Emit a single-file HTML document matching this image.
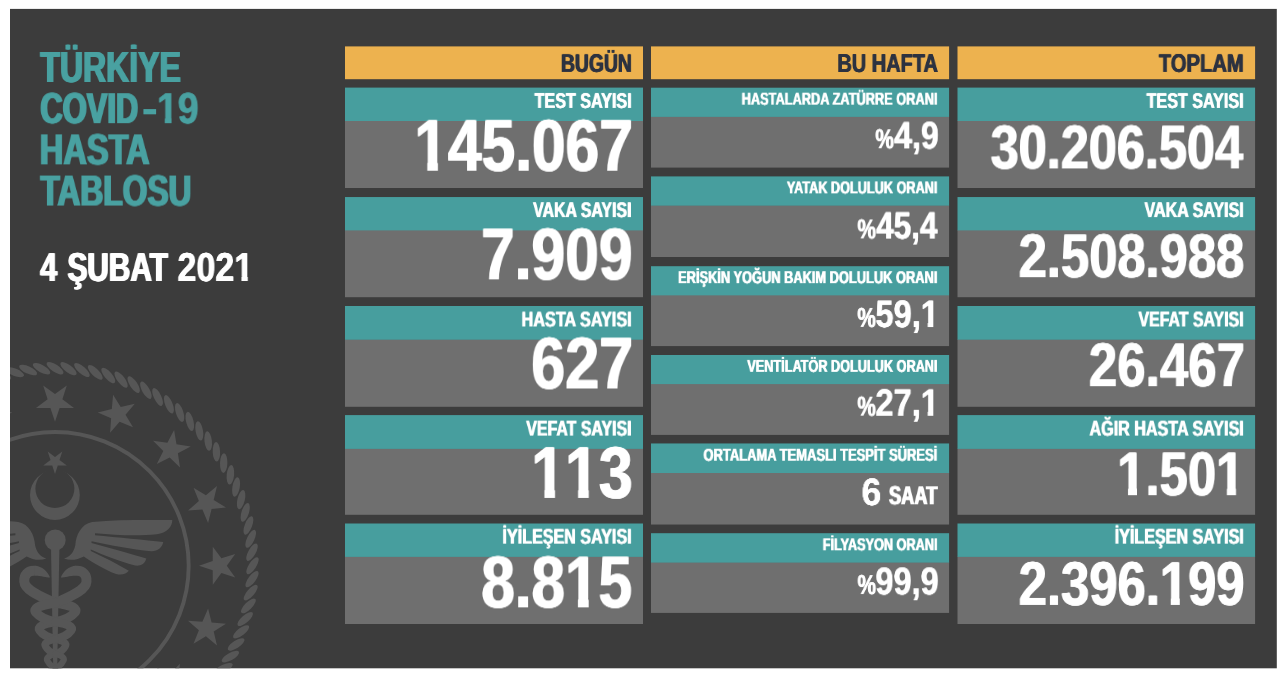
<!DOCTYPE html>
<html lang="tr">
<head>
<meta charset="utf-8">
<title>Türkiye COVID-19 Hasta Tablosu - 4 Şubat 2021</title>
<style>
html,body{margin:0;padding:0;background:#fff;}
body{width:1280px;height:674px;position:relative;overflow:hidden;font-family:"Liberation Sans",sans-serif;font-weight:bold;}
#wrap{position:absolute;left:0;top:0;width:1280px;height:674px;}
.t{position:absolute;left:0;top:0;white-space:nowrap;line-height:1;transform-origin:0 0;color:#fff;margin:0;padding:0;will-change:transform;text-rendering:geometricPrecision;}.o{display:inline-block;clip-path:polygon(0 0,100% 0,100% var(--c),var(--b) var(--c),var(--b) 100%,var(--a) 100%,var(--a) var(--c),0 var(--c));}
</style>
</head>
<body>
<div id="wrap">
<svg width="1280" height="674" viewBox="0 0 1280 674" style="position:absolute;left:0;top:0">
<defs><clipPath id="bc"><rect x="10.00" y="8.90" width="1266.80" height="659.40"/></clipPath></defs>
<rect x="10.00" y="8.90" width="1266.80" height="659.40" fill="#3c3c3c"/>
<g id="emblem" clip-path="url(#bc)" fill="#565656" stroke="none">
<g><ellipse cx="55.0" cy="368.2" rx="9.8" ry="3.7" transform="rotate(33.0 55.0 368.2)"/><ellipse cx="68.5" cy="368.7" rx="9.8" ry="3.7" transform="rotate(36.9 68.5 368.7)"/><ellipse cx="81.9" cy="370.0" rx="9.8" ry="3.7" transform="rotate(40.8 81.9 370.0)"/><ellipse cx="95.2" cy="372.3" rx="9.8" ry="3.7" transform="rotate(44.7 95.2 372.3)"/><ellipse cx="108.3" cy="375.5" rx="9.8" ry="3.7" transform="rotate(48.7 108.3 375.5)"/><ellipse cx="121.1" cy="379.6" rx="9.8" ry="3.7" transform="rotate(52.6 121.1 379.6)"/><ellipse cx="133.7" cy="384.6" rx="9.8" ry="3.7" transform="rotate(56.5 133.7 384.6)"/><ellipse cx="145.9" cy="390.3" rx="9.8" ry="3.7" transform="rotate(60.4 145.9 390.3)"/><ellipse cx="157.6" cy="397.0" rx="9.8" ry="3.7" transform="rotate(64.3 157.6 397.0)"/><ellipse cx="168.9" cy="404.3" rx="9.8" ry="3.7" transform="rotate(68.2 168.9 404.3)"/><ellipse cx="179.6" cy="412.5" rx="9.8" ry="3.7" transform="rotate(72.1 179.6 412.5)"/><ellipse cx="189.8" cy="421.4" rx="9.8" ry="3.7" transform="rotate(76.0 189.8 421.4)"/><ellipse cx="199.3" cy="430.9" rx="9.8" ry="3.7" transform="rotate(80.0 199.3 430.9)"/><ellipse cx="208.2" cy="441.1" rx="9.8" ry="3.7" transform="rotate(83.9 208.2 441.1)"/><ellipse cx="216.4" cy="451.8" rx="9.8" ry="3.7" transform="rotate(87.8 216.4 451.8)"/><ellipse cx="223.7" cy="463.1" rx="9.8" ry="3.7" transform="rotate(91.7 223.7 463.1)"/><ellipse cx="230.4" cy="474.8" rx="9.8" ry="3.7" transform="rotate(95.6 230.4 474.8)"/><ellipse cx="236.1" cy="487.0" rx="9.8" ry="3.7" transform="rotate(99.5 236.1 487.0)"/><ellipse cx="241.1" cy="499.6" rx="9.8" ry="3.7" transform="rotate(103.4 241.1 499.6)"/><ellipse cx="245.2" cy="512.4" rx="9.8" ry="3.7" transform="rotate(107.3 245.2 512.4)"/><ellipse cx="248.4" cy="525.5" rx="9.8" ry="3.7" transform="rotate(111.3 248.4 525.5)"/><ellipse cx="250.7" cy="538.8" rx="9.8" ry="3.7" transform="rotate(115.2 250.7 538.8)"/><ellipse cx="252.0" cy="552.2" rx="9.8" ry="3.7" transform="rotate(119.1 252.0 552.2)"/><ellipse cx="252.5" cy="565.7" rx="9.8" ry="3.7" transform="rotate(123.0 252.5 565.7)"/><ellipse cx="252.0" cy="579.2" rx="9.8" ry="3.7" transform="rotate(126.9 252.0 579.2)"/><ellipse cx="250.7" cy="592.6" rx="9.8" ry="3.7" transform="rotate(130.8 250.7 592.6)"/><ellipse cx="248.4" cy="605.9" rx="9.8" ry="3.7" transform="rotate(134.7 248.4 605.9)"/><ellipse cx="245.2" cy="619.0" rx="9.8" ry="3.7" transform="rotate(138.7 245.2 619.0)"/><ellipse cx="241.1" cy="631.8" rx="9.8" ry="3.7" transform="rotate(142.6 241.1 631.8)"/><ellipse cx="236.1" cy="644.4" rx="9.8" ry="3.7" transform="rotate(146.5 236.1 644.4)"/><ellipse cx="230.4" cy="656.6" rx="9.8" ry="3.7" transform="rotate(150.4 230.4 656.6)"/><ellipse cx="223.7" cy="668.3" rx="9.8" ry="3.7" transform="rotate(154.3 223.7 668.3)"/><ellipse cx="216.4" cy="679.6" rx="9.8" ry="3.7" transform="rotate(158.2 216.4 679.6)"/><ellipse cx="1.7" cy="375.5" rx="9.8" ry="3.7" transform="rotate(377.3 1.7 375.5)"/><ellipse cx="14.8" cy="372.3" rx="9.8" ry="3.7" transform="rotate(381.3 14.8 372.3)"/><ellipse cx="28.1" cy="370.0" rx="9.8" ry="3.7" transform="rotate(385.2 28.1 370.0)"/><ellipse cx="41.5" cy="368.7" rx="9.8" ry="3.7" transform="rotate(389.1 41.5 368.7)"/></g>
<polygon points="55.0,421.7 50.4,408.0 36.0,407.9 47.6,399.3 43.2,385.5 55.0,393.9 66.8,385.5 62.4,399.3 74.0,407.9 59.6,408.0"/>
<polygon points="110.1,432.7 111.1,418.3 97.8,412.6 111.8,409.1 113.1,394.7 120.7,407.0 134.8,403.7 125.5,414.8 133.0,427.2 119.6,421.8"/>
<polygon points="156.8,463.9 163.3,451.0 153.1,440.7 167.4,442.8 174.1,430.0 176.5,444.2 190.7,446.6 177.9,453.3 180.0,467.6 169.7,457.4"/>
<polygon points="188.0,510.6 198.9,501.1 193.5,487.7 205.9,495.2 217.0,485.9 213.7,500.0 226.0,507.6 211.6,508.9 208.1,522.9 202.4,509.6"/>
<polygon points="199.0,565.7 212.7,561.1 212.8,546.7 221.4,558.3 235.2,553.9 226.8,565.7 235.2,577.5 221.4,573.1 212.8,584.7 212.7,570.3"/>
<polygon points="188.0,620.8 202.4,621.8 208.1,608.5 211.6,622.5 226.0,623.8 213.7,631.4 217.0,645.5 205.9,636.2 193.5,643.7 198.9,630.3"/>
<polygon points="156.8,667.5 169.7,674.0 180.0,663.8 177.9,678.1 190.7,684.8 176.5,687.2 174.1,701.4 167.4,688.6 153.1,690.7 163.3,680.4"/>
<polygon points="-0.1,432.7 -9.6,421.8 -23.0,427.2 -15.5,414.8 -24.8,403.7 -10.7,407.0 -3.1,394.7 -1.8,409.1 12.2,412.6 -1.1,418.3"/>
<circle cx="55.0" cy="565.7" r="133.7" fill="none" stroke="#565656" stroke-width="3.9"/>
<polygon points="55.0,474.0 52.2,465.4 43.2,465.4 50.5,460.1 47.7,451.6 55.0,456.9 62.3,451.6 59.5,460.1 66.8,465.4 57.8,465.4"/>
<clipPath id="cr"><path d="M30.0,495.0 a24.9,24.9 0 1,1 49.8,0 a24.9,24.9 0 1,1 -49.8,0Z"/></clipPath>
<path clip-path="url(#cr)" fill-rule="evenodd" d="M0,440H120V540H0Z M35.4,488.6 a19.5,19.5 0 1,1 39.0,0 a19.5,19.5 0 1,1 -39.0,0Z"/>
<path d="M64.1,558.5C69.7,557.1 73.9,552.2 75.3,545.2C76.0,535.3 80.9,524.1 92.2,522.0C117.5,519.6 145.6,520.1 172.3,520.1C172.3,526.9 166.7,533.2 156.9,534.2C138.6,536.0 117.5,535.3 95.0,533.2L95.0,535.3C117.5,537.4 145.6,540.2 163.2,542.1C162.5,548.0 156.9,551.5 151.3,551.2C131.6,549.4 110.5,545.2 91.5,541.2L91.5,543.0C110.5,548.0 131.6,554.3 146.3,558.5C144.9,564.1 140.0,566.3 135.1,565.5C117.5,560.6 103.4,555.0 90.8,549.4L90.8,551.1C103.4,557.1 117.5,564.1 128.8,570.8C126.6,574.0 121.7,575.4 116.1,574.0C103.4,569.1 92.2,562.0 83.8,556.4C78.1,559.2 71.1,561.3 64.1,558.5Z"/>
<path d="M46.3,558.5C40.7,557.1 36.5,552.2 35.1,545.2C34.4,535.3 29.5,524.1 18.2,522.0C-7.1,519.6 -35.2,520.1 -61.9,520.1C-61.9,526.9 -56.3,533.2 -46.5,534.2C-28.2,536.0 -7.1,535.3 15.4,533.2L15.4,535.3C-7.1,537.4 -35.2,540.2 -52.8,542.1C-52.1,548.0 -46.5,551.5 -40.9,551.2C-21.2,549.4 -0.1,545.2 18.9,541.2L18.9,543.0C-0.1,548.0 -21.2,554.3 -35.9,558.5C-34.5,564.1 -29.6,566.3 -24.7,565.5C-7.1,560.6 7.0,555.0 19.6,549.4L19.6,551.1C7.0,557.1 -7.1,564.1 -18.4,570.8C-16.2,574.0 -11.3,575.4 -5.7,574.0C7.0,569.1 18.2,562.0 26.6,556.4C32.3,559.2 39.3,561.3 46.3,558.5Z"/>
<circle cx="55.2" cy="540" r="10.5"/>
<path d="M51,548 L59.4,548 L57.2,668 L53.2,668Z"/>
<path d="M35.2,570.8 C27.5,570.2 23.8,575.4 24.3,581.4 C24.7,588.8 35.2,594.4 55.4,603.0" fill="none" stroke="#565656" stroke-width="10.0" stroke-linecap="butt" stroke-linejoin="round"/><path d="M55.4,603.0 C72.9,605.3 78.3,608.7 74.8,612.5 C71.3,616.7 66.1,620.1 55.4,622.0" fill="none" stroke="#565656" stroke-width="9.4" stroke-linecap="round" stroke-linejoin="round"/><path d="M55.4,622.0 C41.2,624.1 36.8,627.2 39.6,630.6 C42.4,634.4 46.7,637.5 55.4,639.2" fill="none" stroke="#565656" stroke-width="8.4" stroke-linecap="round" stroke-linejoin="round"/><path d="M55.4,639.2 C64.2,641.0 67.0,643.6 65.2,646.5 C63.4,649.8 60.8,652.4 55.4,653.9" fill="none" stroke="#565656" stroke-width="7.2" stroke-linecap="round" stroke-linejoin="round"/><path d="M55.4,653.9 C48.2,655.6 46.0,658.1 47.4,660.8 C48.8,663.9 51.0,666.4 55.4,667.8" fill="none" stroke="#565656" stroke-width="6.2" stroke-linecap="round" stroke-linejoin="round"/><path d="M55.4,667.8 C60.8,669.3 62.5,671.5 61.4,673.9 C60.3,676.6 58.7,678.8 55.4,680.0" fill="none" stroke="#565656" stroke-width="5.5" stroke-linecap="round" stroke-linejoin="round"/><path d="M34.8,565.8 C42.1,566.0 47.8,571.9 50.0,577.5 C46.1,577.6 41.8,575.7 34.8,575.7Z"/>
<path d="M75.6,570.8 C83.3,570.2 87.0,575.4 86.5,581.4 C86.1,588.8 75.6,594.4 55.4,603.0" fill="none" stroke="#565656" stroke-width="10.0" stroke-linecap="butt" stroke-linejoin="round"/><path d="M55.4,603.0 C37.9,605.3 32.5,608.7 36.0,612.5 C39.5,616.7 44.7,620.1 55.4,622.0" fill="none" stroke="#565656" stroke-width="9.4" stroke-linecap="round" stroke-linejoin="round"/><path d="M55.4,622.0 C69.6,624.1 74.0,627.2 71.2,630.6 C68.4,634.4 64.1,637.5 55.4,639.2" fill="none" stroke="#565656" stroke-width="8.4" stroke-linecap="round" stroke-linejoin="round"/><path d="M55.4,639.2 C46.6,641.0 43.8,643.6 45.6,646.5 C47.4,649.8 50.0,652.4 55.4,653.9" fill="none" stroke="#565656" stroke-width="7.2" stroke-linecap="round" stroke-linejoin="round"/><path d="M55.4,653.9 C62.6,655.6 64.8,658.1 63.4,660.8 C62.0,663.9 59.8,666.4 55.4,667.8" fill="none" stroke="#565656" stroke-width="6.2" stroke-linecap="round" stroke-linejoin="round"/><path d="M55.4,667.8 C50.0,669.3 48.3,671.5 49.4,673.9 C50.5,676.6 52.1,678.8 55.4,680.0" fill="none" stroke="#565656" stroke-width="5.5" stroke-linecap="round" stroke-linejoin="round"/><path d="M76.0,565.8 C68.7,566.0 63.0,571.9 60.8,577.5 C64.7,577.6 69.0,575.7 76.0,575.7Z"/>
</g>
<rect x="345.00" y="46.40" width="298.00" height="32.80" fill="#edb24f"/>
<rect x="651.00" y="46.40" width="298.10" height="32.80" fill="#edb24f"/>
<rect x="957.50" y="46.40" width="297.60" height="32.80" fill="#edb24f"/>
<rect x="345.00" y="120.50" width="298.00" height="67.50" fill="#6f6f6f"/>
<rect x="345.00" y="87.60" width="298.00" height="33.40" fill="#479e9e"/>
<rect x="345.00" y="229.90" width="298.00" height="67.30" fill="#6f6f6f"/>
<rect x="345.00" y="197.05" width="298.00" height="33.35" fill="#479e9e"/>
<rect x="345.00" y="339.20" width="298.00" height="67.60" fill="#6f6f6f"/>
<rect x="345.00" y="306.00" width="298.00" height="33.70" fill="#479e9e"/>
<rect x="345.00" y="448.40" width="298.00" height="66.40" fill="#6f6f6f"/>
<rect x="345.00" y="415.10" width="298.00" height="33.80" fill="#479e9e"/>
<rect x="345.00" y="556.40" width="298.00" height="67.60" fill="#6f6f6f"/>
<rect x="345.00" y="523.50" width="298.00" height="33.40" fill="#479e9e"/>
<rect x="957.50" y="120.50" width="297.60" height="67.50" fill="#6f6f6f"/>
<rect x="957.50" y="87.60" width="297.60" height="33.40" fill="#479e9e"/>
<rect x="957.50" y="229.90" width="297.60" height="67.30" fill="#6f6f6f"/>
<rect x="957.50" y="197.05" width="297.60" height="33.35" fill="#479e9e"/>
<rect x="957.50" y="339.20" width="297.60" height="67.60" fill="#6f6f6f"/>
<rect x="957.50" y="306.00" width="297.60" height="33.70" fill="#479e9e"/>
<rect x="957.50" y="448.40" width="297.60" height="66.40" fill="#6f6f6f"/>
<rect x="957.50" y="415.10" width="297.60" height="33.80" fill="#479e9e"/>
<rect x="957.50" y="556.40" width="297.60" height="67.60" fill="#6f6f6f"/>
<rect x="957.50" y="523.50" width="297.60" height="33.40" fill="#479e9e"/>
<rect x="651.00" y="116.40" width="298.10" height="51.20" fill="#6f6f6f"/>
<rect x="651.00" y="87.70" width="298.10" height="29.20" fill="#479e9e"/>
<rect x="651.00" y="205.15" width="298.10" height="51.85" fill="#6f6f6f"/>
<rect x="651.00" y="176.40" width="298.10" height="29.25" fill="#479e9e"/>
<rect x="651.00" y="294.85" width="298.10" height="51.25" fill="#6f6f6f"/>
<rect x="651.00" y="266.20" width="298.10" height="29.15" fill="#479e9e"/>
<rect x="651.00" y="383.60" width="298.10" height="51.30" fill="#6f6f6f"/>
<rect x="651.00" y="355.00" width="298.10" height="29.10" fill="#479e9e"/>
<rect x="651.00" y="472.50" width="298.10" height="52.05" fill="#6f6f6f"/>
<rect x="651.00" y="443.45" width="298.10" height="29.55" fill="#479e9e"/>
<rect x="651.00" y="562.10" width="298.10" height="50.80" fill="#6f6f6f"/>
<rect x="651.00" y="533.20" width="298.10" height="29.40" fill="#479e9e"/>
</svg>
<div class="t" style="color:#49a1a1;font-size:43.61px;text-shadow:1.24px 0 0 currentColor,-1.24px 0 0 currentColor;transform:translate(40.35px,46.96px) scaleX(0.7339);">TÜRKİYE</div>
<div class="t" style="color:#49a1a1;font-size:43.62px;text-shadow:1.41px 0 0 currentColor,-1.41px 0 0 currentColor;transform:translate(40.44px,88.18px) scaleX(0.7080);">COVID</div>
<div class="t" style="color:#49a1a1;font-size:43.61px;transform:translate(141.45px,87.97px) scaleX(1.1428);">-</div>
<div class="t" style="color:#49a1a1;font-size:43.62px;--a:38.9%;--b:69.7%;--c:67.96%;text-shadow:0.56px 0 0 currentColor,-0.56px 0 0 currentColor;transform:translate(156.90px,88.18px) scaleX(0.8606);"><span class="o">1</span>9</div>
<div class="t" style="color:#49a1a1;font-size:43.62px;text-shadow:1.16px 0 0 currentColor,-1.16px 0 0 currentColor;transform:translate(39.81px,129.37px) scaleX(0.7465);">HASTA</div>
<div class="t" style="color:#49a1a1;font-size:43.62px;text-shadow:1.28px 0 0 currentColor,-1.28px 0 0 currentColor;transform:translate(40.39px,170.56px) scaleX(0.7279);">TABLOSU</div>
<div class="t" style="font-size:40.46px;text-shadow:1.04px 0 0 currentColor,-1.04px 0 0 currentColor;transform:translate(40.20px,246.99px) scaleX(0.7543);">4</div>
<div class="t" style="font-size:40.46px;text-shadow:1.14px 0 0 currentColor,-1.14px 0 0 currentColor;transform:translate(67.51px,246.99px) scaleX(0.7363);">ŞUBAT</div>
<div class="t" style="font-size:40.46px;--a:38.5%;--b:70.1%;--c:71.60%;text-shadow:0.60px 0 0 currentColor,-0.60px 0 0 currentColor;transform:translate(177.47px,246.99px) scaleX(0.8413);">202<span class="o">1</span></div>
<div class="t" style="color:#2c3240;font-size:25.64px;text-shadow:0.65px 0 0 currentColor,-0.65px 0 0 currentColor;transform:translate(560.92px,51.93px) scaleX(0.7554);">BUGÜN</div>
<div class="t" style="color:#2c3240;font-size:25.66px;text-shadow:0.57px 0 0 currentColor,-0.57px 0 0 currentColor;transform:translate(837.39px,51.99px) scaleX(0.7780);">BU HAFTA</div>
<div class="t" style="color:#2c3240;font-size:25.64px;text-shadow:0.54px 0 0 currentColor,-0.54px 0 0 currentColor;transform:translate(1158.76px,51.93px) scaleX(0.7891);">TOPLAM</div>
<div class="t" style="font-size:21.29px;text-shadow:0.54px 0 0 currentColor,-0.54px 0 0 currentColor;transform:translate(534.58px,90.88px) scaleX(0.7574);">TEST SAYISI</div>
<div class="t" style="font-size:73.43px;--a:39.0%;--b:69.5%;--c:71.64%;text-shadow:0.87px 0 0 currentColor,-0.87px 0 0 currentColor;transform:translate(414.26px,109.73px) scaleX(0.8235);"><span class="o">1</span>45.067</div>
<div class="t" style="font-size:21.31px;text-shadow:0.57px 0 0 currentColor,-0.57px 0 0 currentColor;transform:translate(533.15px,200.09px) scaleX(0.7457);">VAKA SAYISI</div>
<div class="t" style="font-size:73.39px;text-shadow:0.85px 0 0 currentColor,-0.85px 0 0 currentColor;transform:translate(481.01px,218.37px) scaleX(0.8250);">7.909</div>
<div class="t" style="font-size:21.28px;text-shadow:0.52px 0 0 currentColor,-0.52px 0 0 currentColor;transform:translate(521.59px,309.47px) scaleX(0.7611);">HASTA SAYISI</div>
<div class="t" style="font-size:73.42px;text-shadow:0.80px 0 0 currentColor,-0.80px 0 0 currentColor;transform:translate(531.14px,327.49px) scaleX(0.8332);">627</div>
<div class="t" style="font-size:21.30px;text-shadow:0.57px 0 0 currentColor,-0.57px 0 0 currentColor;transform:translate(526.30px,418.58px) scaleX(0.7471);">VEFAT SAYISI</div>
<div class="t" style="font-size:73.42px;--a:39.1%;--b:69.5%;--c:71.65%;text-shadow:0.84px 0 0 currentColor,-0.84px 0 0 currentColor;transform:translate(531.23px,436.93px) scaleX(0.8282);"><span class="o">1</span><span class="o">1</span>3</div>
<div class="t" style="font-size:21.28px;text-shadow:0.54px 0 0 currentColor,-0.54px 0 0 currentColor;transform:translate(502.47px,526.68px) scaleX(0.7572);">İYİLEŞEN SAYISI</div>
<div class="t" style="font-size:73.39px;--a:39.0%;--b:69.6%;--c:71.68%;text-shadow:0.89px 0 0 currentColor,-0.89px 0 0 currentColor;transform:translate(481.30px,546.37px) scaleX(0.8205);">8.8<span class="o">1</span>5</div>
<div class="t" style="font-size:21.27px;text-shadow:0.53px 0 0 currentColor,-0.53px 0 0 currentColor;transform:translate(1146.54px,90.88px) scaleX(0.7577);">TEST SAYISI</div>
<div class="t" style="font-size:61.80px;text-shadow:0.78px 0 0 currentColor,-0.78px 0 0 currentColor;transform:translate(990.63px,117.41px) scaleX(0.8161);">30.206.504</div>
<div class="t" style="font-size:21.29px;text-shadow:0.54px 0 0 currentColor,-0.54px 0 0 currentColor;transform:translate(1144.51px,200.09px) scaleX(0.7536);">VAKA SAYISI</div>
<div class="t" style="font-size:61.79px;text-shadow:0.75px 0 0 currentColor,-0.75px 0 0 currentColor;transform:translate(1018.67px,226.14px) scaleX(0.8207);">2.508.988</div>
<div class="t" style="font-size:21.34px;text-shadow:0.57px 0 0 currentColor,-0.57px 0 0 currentColor;transform:translate(1138.46px,309.48px) scaleX(0.7451);">VEFAT SAYISI</div>
<div class="t" style="font-size:61.79px;text-shadow:0.71px 0 0 currentColor,-0.71px 0 0 currentColor;transform:translate(1088.83px,335.14px) scaleX(0.8264);">26.467</div>
<div class="t" style="font-size:21.29px;text-shadow:0.54px 0 0 currentColor,-0.54px 0 0 currentColor;transform:translate(1089.50px,418.58px) scaleX(0.7570);">AĞIR HASTA SAYISI</div>
<div class="t" style="font-size:61.79px;--a:39.0%;--b:69.6%;--c:70.87%;text-shadow:0.74px 0 0 currentColor,-0.74px 0 0 currentColor;transform:translate(1117.14px,444.14px) scaleX(0.8227);"><span class="o">1</span>.50<span class="o">1</span></div>
<div class="t" style="font-size:21.29px;text-shadow:0.54px 0 0 currentColor,-0.54px 0 0 currentColor;transform:translate(1114.70px,526.68px) scaleX(0.7563);">İYİLEŞEN SAYISI</div>
<div class="t" style="font-size:61.80px;--a:39.0%;--b:69.6%;--c:70.86%;text-shadow:0.74px 0 0 currentColor,-0.74px 0 0 currentColor;transform:translate(1018.68px,553.90px) scaleX(0.8216);">2.396.<span class="o">1</span>99</div>
<div class="t" style="font-size:17.24px;text-shadow:0.47px 0 0 currentColor,-0.47px 0 0 currentColor;transform:translate(741.63px,90.67px) scaleX(0.7419);">HASTALARDA ZATÜRRE ORANI</div>
<div class="t" style="font-size:38.35px;text-shadow:0.40px 0 0 currentColor,-0.40px 0 0 currentColor;transform:translate(894.18px,117.42px) scaleX(0.8362);">4,9</div>
<div class="t" style="font-size:27.63px;text-shadow:0.55px 0 0 currentColor,-0.55px 0 0 currentColor;transform:translate(875.39px,125.25px) scaleX(0.7530);">%</div>
<div class="t" style="font-size:17.21px;text-shadow:0.48px 0 0 currentColor,-0.48px 0 0 currentColor;transform:translate(786.79px,179.37px) scaleX(0.7381);">YATAK DOLULUK ORANI</div>
<div class="t" style="font-size:38.35px;text-shadow:0.47px 0 0 currentColor,-0.47px 0 0 currentColor;transform:translate(876.28px,207.57px) scaleX(0.8196);">45,4</div>
<div class="t" style="font-size:27.63px;text-shadow:0.55px 0 0 currentColor,-0.55px 0 0 currentColor;transform:translate(857.46px,215.40px) scaleX(0.7527);">%</div>
<div class="t" style="font-size:17.32px;text-shadow:0.47px 0 0 currentColor,-0.47px 0 0 currentColor;transform:translate(678.09px,269.15px) scaleX(0.7411);">ERİŞKİN YOĞUN BAKIM DOLULUK ORANI</div>
<div class="t" style="font-size:38.35px;--a:39.5%;--b:69.1%;--c:68.29%;text-shadow:0.35px 0 0 currentColor,-0.35px 0 0 currentColor;transform:translate(875.41px,296.02px) scaleX(0.8515);">59,<span class="o">1</span></div>
<div class="t" style="font-size:27.63px;text-shadow:0.55px 0 0 currentColor,-0.55px 0 0 currentColor;transform:translate(857.40px,303.89px) scaleX(0.7516);">%</div>
<div class="t" style="font-size:17.28px;text-shadow:0.49px 0 0 currentColor,-0.49px 0 0 currentColor;transform:translate(747.35px,357.87px) scaleX(0.7351);">VENTİLATÖR DOLULUK ORANI</div>
<div class="t" style="font-size:38.35px;--a:39.5%;--b:69.1%;--c:68.27%;text-shadow:0.35px 0 0 currentColor,-0.35px 0 0 currentColor;transform:translate(875.43px,384.81px) scaleX(0.8514);">27,<span class="o">1</span></div>
<div class="t" style="font-size:27.63px;text-shadow:0.55px 0 0 currentColor,-0.55px 0 0 currentColor;transform:translate(857.41px,392.64px) scaleX(0.7510);">%</div>
<div class="t" style="font-size:17.30px;text-shadow:0.45px 0 0 currentColor,-0.45px 0 0 currentColor;transform:translate(703.47px,446.69px) scaleX(0.7492);">ORTALAMA TEMASLI TESPİT SÜRESİ</div>
<div class="t" style="font-size:38.35px;text-shadow:0.09px 0 0 currentColor,-0.09px 0 0 currentColor;transform:translate(861.55px,474.02px) scaleX(0.9291);">6</div>
<div class="t" style="font-size:26.18px;text-shadow:0.89px 0 0 currentColor,-0.89px 0 0 currentColor;transform:translate(888.94px,482.29px) scaleX(0.6978);">SAAT</div>
<div class="t" style="font-size:17.25px;text-shadow:0.49px 0 0 currentColor,-0.49px 0 0 currentColor;transform:translate(822.74px,536.28px) scaleX(0.7356);">FİLYASYON ORANI</div>
<div class="t" style="font-size:38.35px;text-shadow:0.37px 0 0 currentColor,-0.37px 0 0 currentColor;transform:translate(875.41px,563.23px) scaleX(0.8472);">99,9</div>
<div class="t" style="font-size:27.63px;text-shadow:0.55px 0 0 currentColor,-0.55px 0 0 currentColor;transform:translate(857.53px,571.06px) scaleX(0.7503);">%</div>
</div>
</body>
</html>
